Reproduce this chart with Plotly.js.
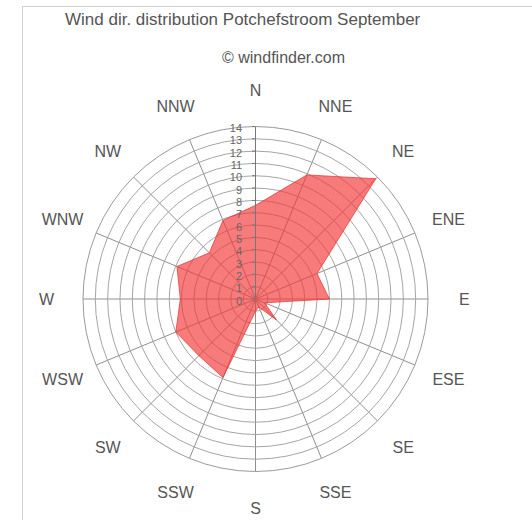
<!DOCTYPE html>
<html>
<head>
<meta charset="utf-8">
<script src="https://cdn.plot.ly/plotly-3.0.1.min.js"></script>
<style>
html,body{margin:0;padding:0;background:#fff;}
#wrap{position:relative;width:532px;height:520px;overflow:hidden;}
#frame{position:absolute;left:22px;top:6px;width:520px;height:520px;border-left:1px solid #cfcfcf;border-top:1px solid #cfcfcf;pointer-events:none;}
#chart{position:absolute;left:0;top:0;width:532px;height:520px;}
</style>
</head>
<body>
<div id="wrap"><div id="chart"></div><div id="frame"></div></div>
<script>
const directions = ["N","NNE","NE","ENE","E","ESE","SE","SSE","S","SSW","SW","WSW","W","WNW","NW","NNW"];
const frequency = [7.6,10.9,13.8,5.4,6.0,0.8,2.4,0.7,1.0,6.9,6.5,7.0,6.1,6.9,5.3,6.9];
const radialTicks = [0,1,2,3,4,5,6,7,8,9,10,11,12,13,14];
const titleText = "Wind dir. distribution Potchefstroom September";
const subtitleText = "© windfinder.com";

const FONT = "Liberation Sans, Arial, sans-serif";
const W = 532, H = 520;
const CX = 255.5, CY = 299;          // centre of the rose (px)
const PX_PER_UNIT = 172.5 / 14;      // radial scale (px per %)
const RMAX = 14, LABEL_RMAX = 17, labelR = 16.95;

function domainFor(rmax, dy) {
  const rad = rmax * PX_PER_UNIT;
  const cy = CY + (dy || 0);
  return {x: [(CX - rad) / W, (CX + rad) / W], y: [1 - (cy + rad) / H, 1 - (cy - rad) / H]};
}

const rose = {
  type: "scatterpolar",
  subplot: "polar",
  r: frequency.concat([frequency[0]]),
  theta: directions.concat([directions[0]]),
  mode: "lines",
  fill: "toself",
  fillcolor: "rgba(245,55,55,0.66)",
  line: {color: "rgba(235,50,50,0.75)", width: 1},
  hoverinfo: "skip"
};

const compass = {
  type: "scatterpolar",
  subplot: "polar2",
  r: directions.map(() => labelR),
  theta: directions,
  mode: "text",
  text: directions,
  textposition: "middle center",
  textfont: {size: 16, color: "#555", family: FONT},
  cliponaxis: false,
  hoverinfo: "skip"
};

const layout = {
  width: W, height: H,
  margin: {l:0, r:0, t:0, b:0},
  paper_bgcolor: "#fff",
  showlegend: false,
  font: {family: FONT, color: "#555"},
  polar: {
    domain: domainFor(RMAX, 0),
    bgcolor: "rgba(0,0,0,0)",
    angularaxis: {
      type: "category",
      categoryarray: directions,
      rotation: 90,
      direction: "clockwise",
      showline: true,
      linecolor: "#9a9a9a",
      linewidth: 1,
      gridcolor: "#8f8f8f",
      gridwidth: 1,
      ticks: "",
      showticklabels: false,
      layer: "above traces"
    },
    radialaxis: {
      range: [0, RMAX],
      tickvals: radialTicks,
      ticktext: radialTicks.map(String),
      angle: 90,
      side: "counterclockwise",
      showline: true,
      linecolor: "#777",
      gridcolor: "#a5a5a5",
      gridwidth: 1,
      ticks: "outside",
      ticklen: 3,
      tickcolor: "#777",
      tickfont: {size: 11, color: "#666", family: FONT},
      layer: "above traces"
    }
  },
  polar2: {
    domain: domainFor(LABEL_RMAX, 2),
    bgcolor: "rgba(0,0,0,0)",
    angularaxis: {
      type: "category",
      categoryarray: directions,
      rotation: 90,
      direction: "clockwise",
      visible: false,
      showgrid: false,
      showline: false,
      showticklabels: false,
      ticks: ""
    },
    radialaxis: {
      range: [0, LABEL_RMAX],
      visible: false,
      showgrid: false,
      showline: false,
      showticklabels: false,
      ticks: ""
    }
  },
  annotations: [
    {text: titleText, xref: "paper", yref: "paper", x: 243/W, y: 1-20/H, xanchor: "center", yanchor: "middle", showarrow: false, font: {size: 17, color: "#555"}},
    {text: subtitleText, xref: "paper", yref: "paper", x: 283/W, y: 1-57/H, xanchor: "center", yanchor: "middle", showarrow: false, font: {size: 16, color: "#555"}}
  ]
};

Plotly.newPlot("chart", [rose, compass], layout, {staticPlot: true, displayModeBar: false});
</script>
</body>
</html>
